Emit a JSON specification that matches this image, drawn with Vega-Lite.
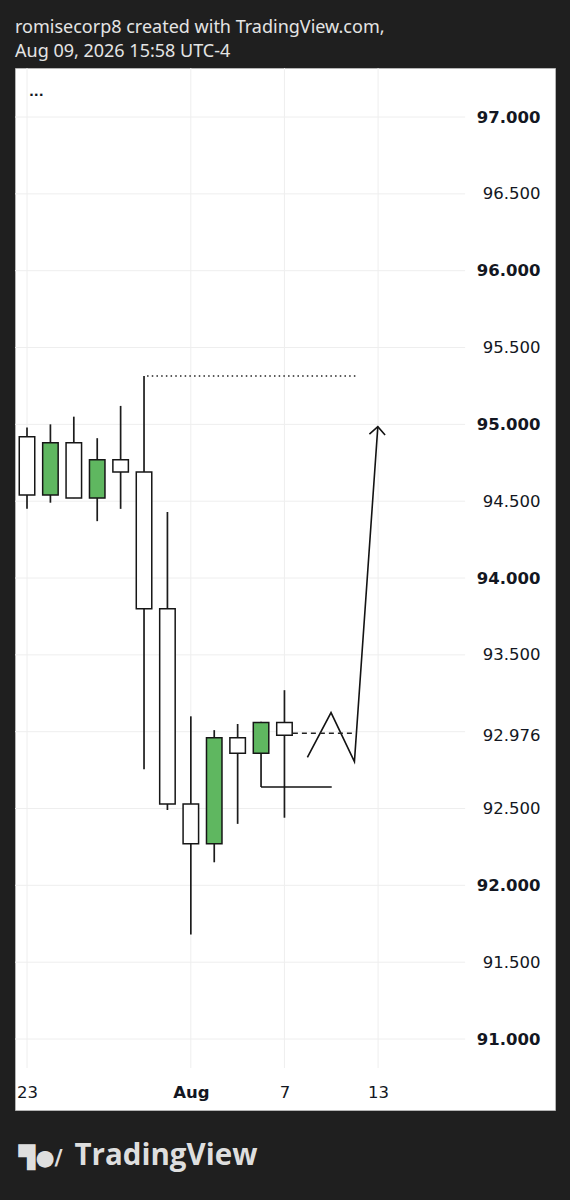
{
  "$schema": "https://vega.github.io/schema/vega-lite/v6.json",
  "width": 540,
  "height": 1042,
  "autosize": {"type": "none"},
  "padding": {"left": 15, "top": 68, "right": 15, "bottom": 90},
  "background": "#1f1f1f",
  "view": {"fill": "#ffffff", "stroke": "#b4b4b4", "strokeWidth": 1},
  "title": {
    "text": ["romisecorp8 created with TradingView.com,", "Aug 09, 2026 15:58 UTC-4"],
    "anchor": "start",
    "frame": "group",
    "font": "Noto Sans",
    "fontSize": 18,
    "fontWeight": "normal",
    "color": "#e4e4e4",
    "lineHeight": 24,
    "offset": 7
  },
  "datasets": {
    "candles": [
      {"i": 0, "date": "2026-07-23", "o": 94.92, "h": 94.98, "l": 94.45, "c": 94.54},
      {"i": 1, "date": "2026-07-24", "o": 94.54, "h": 95.0, "l": 94.49, "c": 94.88},
      {"i": 2, "date": "2026-07-27", "o": 94.88, "h": 95.05, "l": 94.52, "c": 94.52},
      {"i": 3, "date": "2026-07-28", "o": 94.52, "h": 94.91, "l": 94.37, "c": 94.77},
      {"i": 4, "date": "2026-07-29", "o": 94.77, "h": 95.12, "l": 94.45, "c": 94.69},
      {"i": 5, "date": "2026-07-30", "o": 94.69, "h": 95.315, "l": 92.755, "c": 93.8},
      {"i": 6, "date": "2026-07-31", "o": 93.8, "h": 94.43, "l": 92.49, "c": 92.53},
      {"i": 7, "date": "2026-08-03", "o": 92.53, "h": 93.1, "l": 91.68, "c": 92.27},
      {"i": 8, "date": "2026-08-04", "o": 92.27, "h": 93.01, "l": 92.15, "c": 92.96},
      {"i": 9, "date": "2026-08-05", "o": 92.96, "h": 93.05, "l": 92.4, "c": 92.86},
      {"i": 10, "date": "2026-08-06", "o": 92.86, "h": 93.065, "l": 92.64, "c": 93.06},
      {"i": 11, "date": "2026-08-07", "o": 93.06, "h": 93.27, "l": 92.44, "c": 92.976}
    ],
    "gridY": [
      {"p": 91.0}, {"p": 91.5}, {"p": 92.0}, {"p": 92.5}, {"p": 93.0}, {"p": 93.5},
      {"p": 94.0}, {"p": 94.5}, {"p": 95.0}, {"p": 95.5}, {"p": 96.0}, {"p": 96.5}, {"p": 97.0}
    ],
    "gridX": [{"i": 0}, {"i": 7}, {"i": 11}, {"i": 15}],
    "drawings": [
      {"seg": "zigzag", "k": 0, "i": 11.98, "p": 92.833},
      {"seg": "zigzag", "k": 1, "i": 12.99, "p": 93.124},
      {"seg": "zigzag", "k": 2, "i": 13.99, "p": 92.805},
      {"seg": "zigzag", "k": 3, "i": 14.99, "p": 94.985},
      {"seg": "arrowhead", "k": 0, "i": 14.63, "p": 94.937},
      {"seg": "arrowhead", "k": 1, "i": 14.99, "p": 94.985},
      {"seg": "arrowhead", "k": 2, "i": 15.3, "p": 94.931},
      {"seg": "ray", "k": 0, "i": 10.0, "p": 92.64},
      {"seg": "ray", "k": 1, "i": 13.02, "p": 92.64}
    ],
    "dotted": [{"i1": 5.13, "i2": 14.1, "p": 95.315}],
    "dashed": [{"i1": 11.36, "i2": 14.0, "p": 92.99}],
    "legend": [{"label": "..."}]
  },
  "layer": [
    {
      "data": {"name": "gridY"},
      "mark": {"type": "rule", "color": "#eeeeee", "strokeWidth": 1},
      "encoding": {
        "y": {
          "field": "p", "type": "quantitative",
          "scale": {"domain": [90.538, 97.319], "nice": false, "zero": false, "padding": 0},
          "axis": {
            "orient": "right",
            "offset": -15,
            "values": [91, 91.5, 92, 92.5, 92.976, 93.5, 94, 94.5, 95, 95.5, 96, 96.5, 97],
            "labelExpr": "format(datum.value, '.3f')",
            "domain": false,
            "ticks": false,
            "tickSize": 0,
            "grid": false,
            "labelPadding": 0,
            "labelAlign": "right",
            "labelBaseline": "middle",
            "labelFont": "DejaVu Sans",
            "labelFontSize": 16.5,
            "labelColor": "#131722",
            "labelFontWeight": {"condition": {"test": "datum.value == floor(datum.value)", "value": "bold"}, "value": "normal"},
            "labelOverlap": false,
            "labelFlush": false,
            "title": "▜●/",
            "titleAngle": 0,
            "titleX": -522,
            "titleY": 1096,
            "titleAlign": "left",
            "titleBaseline": "alphabetic",
            "titleFont": "DejaVu Sans",
            "titleFontSize": 22,
            "titleFontWeight": "bold",
            "titleColor": "#dedede"
          }
        },
        "x": {
          "datum": -0.513, "type": "quantitative",
          "scale": {"domain": [-0.513, 22.56], "nice": false, "zero": false, "padding": 0},
          "axis": {
            "orient": "bottom",
            "offset": -26,
            "values": [0, 7, 11, 15],
            "labelExpr": "datum.value == 0 ? '23' : datum.value == 7 ? 'Aug' : datum.value == 11 ? '7' : '13'",
            "domain": false,
            "ticks": false,
            "tickSize": 0,
            "grid": false,
            "labelPadding": 0,
            "labelAlign": "center",
            "labelBaseline": "top",
            "labelFont": "DejaVu Sans",
            "labelFontSize": 16.5,
            "labelColor": "#131722",
            "labelFontWeight": {"condition": {"test": "datum.value == 7", "value": "bold"}, "value": "normal"},
            "labelOverlap": false,
            "labelFlush": false,
            "title": "TradingView",
            "titleX": 59,
            "titleY": 80,
            "titleAlign": "left",
            "titleAnchor": "start",
            "titleBaseline": "alphabetic",
            "titleFont": "Open Sans",
            "titleFontSize": 29.5,
            "titleFontWeight": "bold",
            "titleColor": "#dedede"
          }
        },
        "x2": {"datum": 18.72}
      }
    },
    {
      "data": {"name": "gridX"},
      "mark": {"type": "rule", "color": "#eeeeee", "strokeWidth": 1},
      "encoding": {
        "x": {"field": "i", "type": "quantitative", "scale": {"domain": [-0.513, 22.56], "nice": false, "zero": false, "padding": 0}},
        "y": {"datum": 90.811, "type": "quantitative", "scale": {"domain": [90.538, 97.319], "nice": false, "zero": false, "padding": 0}},
        "y2": {"datum": 97.319}
      }
    },
    {
      "data": {"name": "candles"},
      "mark": {"type": "rule", "color": "#1c1c1c", "strokeWidth": 1.7},
      "encoding": {
        "x": {"field": "i", "type": "quantitative", "scale": {"domain": [-0.513, 22.56], "nice": false, "zero": false, "padding": 0}},
        "y": {"field": "l", "type": "quantitative", "scale": {"domain": [90.538, 97.319], "nice": false, "zero": false, "padding": 0}},
        "y2": {"field": "h"}
      }
    },
    {
      "data": {"name": "candles"},
      "mark": {"type": "bar", "size": 15.5, "stroke": "#161616", "strokeWidth": 1.5},
      "encoding": {
        "x": {"field": "i", "type": "quantitative", "scale": {"domain": [-0.513, 22.56], "nice": false, "zero": false, "padding": 0}},
        "y": {"field": "o", "type": "quantitative", "scale": {"domain": [90.538, 97.319], "nice": false, "zero": false, "padding": 0}},
        "y2": {"field": "c"},
        "fill": {"condition": {"test": "datum.c > datum.o", "value": "#5fb760"}, "value": "#ffffff"}
      }
    },
    {
      "data": {"name": "drawings"},
      "mark": {"type": "line", "color": "#131313", "strokeWidth": 1.6},
      "encoding": {
        "x": {"field": "i", "type": "quantitative", "scale": {"domain": [-0.513, 22.56], "nice": false, "zero": false, "padding": 0}},
        "y": {"field": "p", "type": "quantitative", "scale": {"domain": [90.538, 97.319], "nice": false, "zero": false, "padding": 0}},
        "detail": {"field": "seg"},
        "order": {"field": "k"}
      }
    },
    {
      "data": {"name": "dotted"},
      "mark": {"type": "rule", "color": "#222222", "strokeWidth": 1.5, "strokeDash": [1.5, 3.2]},
      "encoding": {
        "x": {"field": "i1", "type": "quantitative", "scale": {"domain": [-0.513, 22.56], "nice": false, "zero": false, "padding": 0}},
        "x2": {"field": "i2"},
        "y": {"field": "p", "type": "quantitative", "scale": {"domain": [90.538, 97.319], "nice": false, "zero": false, "padding": 0}}
      }
    },
    {
      "data": {"name": "dashed"},
      "mark": {"type": "rule", "color": "#222222", "strokeWidth": 1.5, "strokeDash": [5, 4]},
      "encoding": {
        "x": {"field": "i1", "type": "quantitative", "scale": {"domain": [-0.513, 22.56], "nice": false, "zero": false, "padding": 0}},
        "x2": {"field": "i2"},
        "y": {"field": "p", "type": "quantitative", "scale": {"domain": [90.538, 97.319], "nice": false, "zero": false, "padding": 0}}
      }
    },
    {
      "data": {"name": "legend"},
      "mark": {"type": "text", "align": "left", "baseline": "middle", "fontSize": 13, "font": "DejaVu Sans", "fontWeight": "bold", "color": "#131722"},
      "encoding": {
        "x": {"datum": 0.08, "type": "quantitative", "scale": {"domain": [-0.513, 22.56], "nice": false, "zero": false, "padding": 0}},
        "y": {"datum": 97.16, "type": "quantitative", "scale": {"domain": [90.538, 97.319], "nice": false, "zero": false, "padding": 0}},
        "text": {"field": "label"}
      }
    }
  ]
}
